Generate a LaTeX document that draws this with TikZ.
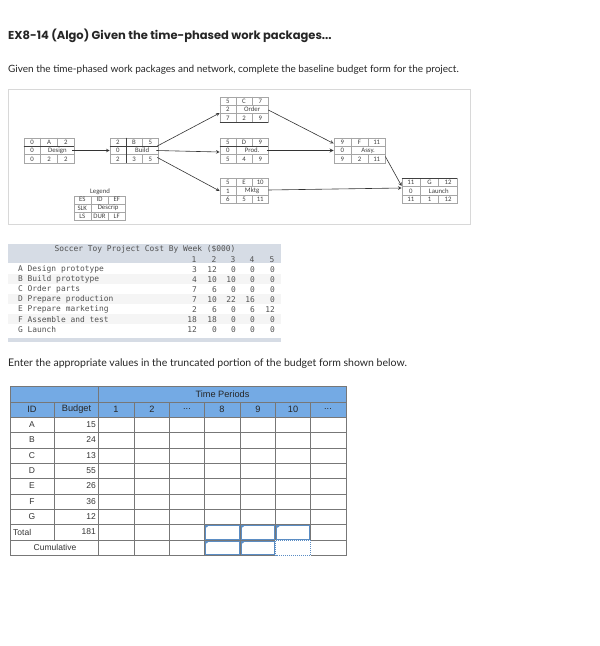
\documentclass[tikz,border=0pt]{standalone}
\usepackage{fontspec}
\setmainfont{Liberation Sans}
\newfontfamily\headfont{Lato}
\newfontfamily\titlefont{Poppins}
\newfontfamily\wpfont{Carlito}
\newfontfamily\codefont{DejaVu Sans Mono}
\usetikzlibrary{calc}

\definecolor{framegray}{HTML}{D8D8D8}
\definecolor{cellgray}{HTML}{A6A6A6}
\definecolor{bandgray}{HTML}{D6DCE5}
\definecolor{rowgray}{HTML}{F5F5F5}
\definecolor{formblue}{HTML}{74AAE4}
\definecolor{formgray}{HTML}{777777}
\definecolor{inputblue}{HTML}{5B8DC4}

\newcommand{\wpcells}[9]{
	\coordinate (#1colL) at ($(#1.west)!1/3!(#1.east)$);
	\coordinate (#1colR) at ($(#1.west)!2/3!(#1.east)$);
	\coordinate (#1cola) at ($(#1.west)!1/6!(#1.east)$);
	\coordinate (#1colc) at ($(#1.west)!5/6!(#1.east)$);
	\coordinate (#1rowT) at ($(#1.north)!1/6!(#1.south)$);
	\coordinate (#1rowU) at ($(#1.north)!1/3!(#1.south)$);
	\coordinate (#1rowV) at ($(#1.north)!2/3!(#1.south)$);
	\coordinate (#1rowD) at ($(#1.north)!5/6!(#1.south)$);
	\draw[cellrule] (#1.west |- #1rowU) -- (#1.east |- #1rowU);
	\draw[cellrule] (#1.west |- #1rowV) -- (#1.east |- #1rowV);
	\draw[cellrule] (#1colL |- #1.north) -- (#1colL |- #1.south);
	\draw[cellrule] (#1colR |- #1.north) -- (#1colR |- #1rowU);
	\draw[cellrule] (#1colR |- #1rowV) -- (#1colR |- #1.south);
	\node[wptext] (#1-es) at (#1cola |- #1rowT) {#2};
	\node[wptext] (#1-id) at (#1.center |- #1rowT) {#3};
	\node[wptext] (#1-ef) at (#1colc |- #1rowT) {#4};
	\node[wptext] (#1-sl) at (#1cola |- #1.center) {#5};
	\node[wptext] (#1-de) at (#1colR |- #1.center) {#6};
	\node[wptext] (#1-ls) at (#1cola |- #1rowD) {#7};
	\node[wptext] (#1-du) at (#1.center |- #1rowD) {#8};
	\node[wptext] (#1-lf) at (#1colc |- #1rowD) {#9};
}

\begin{document}
\begin{tikzpicture}[x=1pt, y=-1pt, line cap=butt,
	wpbox/.style={draw=cellgray, line width=0.7pt, inner sep=0, minimum height=25pt},
	cellrule/.style={draw=cellgray, line width=0.6pt},
	darkrule/.style={draw=black!75, line width=0.7pt},
	wptext/.style={font=\wpfont\fontsize{6.8}{7}\selectfont, text=black!75, inner sep=0},
	link/.style={draw=black!80, line width=0.6pt, -stealth},
	headtext/.style={anchor=west, inner sep=0, text=black!85},
	codetext/.style={font=\codefont\fontsize{7.9}{8}\selectfont, text=black!68, inner sep=0, yshift=-0.7pt},
	formtext/.style={font=\fontsize{8.5}{9}\selectfont, text=black!80, inner sep=0},
	formhead/.style={font=\fontsize{9.2}{10}\selectfont, text=black!85, inner sep=0},
	formrule/.style={draw=formgray, line width=0.8pt},
	inputcell/.style={draw=inputblue, line width=1pt},
	]
	\useasboundingbox (0,0) rectangle (600,646);
	
	% Headings
	\node[headtext, font=\titlefont\bfseries\fontsize{11.5}{12}\selectfont] (title) at (8,36) {EX8-14 (Algo) Given the time-phased work packages...};
	\node[headtext, font=\headfont\fontsize{10}{11}\selectfont] (intro) at (8,70) {Given the time-phased work packages and network, complete the baseline budget form for the project.};
	\node[headtext, font=\headfont\fontsize{10.5}{11}\selectfont] (enter) at (8,364) {Enter the appropriate values in the truncated portion of the budget form shown below.};
	
	% Network frame
	\draw[framegray, line width=0.8pt] (8.5,89.5) rectangle (470,224);
	
	% Work packages
	\node[wpbox, minimum width=50pt] (A) at (49,150.5) {};
	\node[wpbox, minimum width=48pt] (B) at (134,150.5) {};
	\node[wpbox, minimum width=48pt] (C) at (244,109.5) {};
	\node[wpbox, minimum width=48pt] (D) at (244,150.5) {};
	\node[wpbox, minimum width=48pt] (E) at (244,191) {};
	\node[wpbox, minimum width=51pt] (F) at (359.5,150.5) {};
	\node[wpbox, minimum width=55pt] (G) at (429.5,191) {};
	\node[wpbox, minimum width=51pt, minimum height=24pt] (key) at (99.5,208) {};
	\wpcells{A}{0}{A}{2}{0}{Design}{0}{2}{2}
	\wpcells{B}{2}{B}{5}{0}{Build}{2}{3}{5}
	\wpcells{C}{5}{C}{7}{2}{Order}{7}{2}{9}
	\wpcells{D}{5}{D}{9}{0}{Prod.}{5}{4}{9}
	\wpcells{E}{5}{E}{10}{1}{Mktg}{6}{5}{11}
	\wpcells{F}{9}{F}{11}{0}{Assy.\hspace{14pt}}{9}{2}{11}
	\wpcells{G}{11}{G}{12}{0}{Launch}{11}{1}{12}
	\wpcells{key}{ES}{ID}{EF}{SLK}{Descrip}{LS}{DUR}{LF}
	\node[wptext] (keytitle) at (100,192) {Legend};
	
	% Darker rules
	\foreach \n in {A,B,D}
	{
		\draw[darkrule] ($(\n.north west)!1/3!(\n.south west)$) -- ($(\n.north east)!1/3!(\n.south east)$);
	}
	\draw[darkrule] ($(B.north west)!1/3!(B.north east)$) -- ($(B.south west)!1/3!(B.south east)$);
	\draw[darkrule] (G.north west) -- (G.north east);
	\draw[darkrule] (C.south west) -- (C.south east);
	
	% Arrows
	\draw[link] ([xshift=-2pt]A.east) -- (B.west);
	\draw[link] ([xshift=-1pt, yshift=4.5pt]B.east) -- ([yshift=-3.5pt]C.west);
	\draw[link] ([xshift=-2pt]B.east) -- ([yshift=-1.5pt]D.west);
	\draw[link] ([xshift=-1pt, yshift=-7pt]B.east) -- (E.west);
	\draw[link] ([yshift=-0.5pt]C.east) -- ([yshift=7pt]F.west);
	\draw[link, line width=0.8pt] ([xshift=-1pt]D.east) -- (F.west);
	\draw[link] ([yshift=1pt]E.east) -- ([yshift=3pt]G.west);
	\draw[link] ([yshift=-6pt]F.east) -- ([yshift=5pt]G.west);
	
	% Cost table
	\fill[bandgray] (8,244) rectangle (281,263);
	\fill[bandgray] (8,337.5) rectangle (281,342);
	\foreach \y in {279,299,319}
	{
		\fill[rowgray] (8,\y-5) rectangle (281,\y+5);
	}
	\node[codetext] (costtitle) at (145,248.5) {Soccer Toy Project Cost By Week (\$000)};
	\foreach \w/\x in {1/194,2/214,3/233,4/252,5/272}
	{
		\node[codetext] (week\w) at (\x,258.5) {\w};
	}
	\foreach \i/\t/\y in {A/Design prototype/269,B/Build prototype/279,C/Order parts/289,D/Prepare production/299,E/Prepare marketing/309,F/Assemble and test/319,G/Launch/329}
	{
		\node[codetext, anchor=west] (task\i) at (18,\y) {\i\ \t};
	}
	\foreach \i/\a/\b/\c/\d/\e/\y in {A/3/12/0/0/0/269,B/4/10/10/0/0/279,C/7/6/0/0/0/289,D/7/10/22/16/0/299,E/2/6/0/6/12/309,F/18/18/0/0/0/319,G/12/0/0/0/0/329}
	{
		\node[codetext, anchor=east] (cost\i1) at (197,\y) {\a};
		\node[codetext, anchor=east] (cost\i2) at (217,\y) {\b};
		\node[codetext, anchor=east] (cost\i3) at (236,\y) {\c};
		\node[codetext, anchor=east] (cost\i4) at (255,\y) {\d};
		\node[codetext, anchor=east] (cost\i5) at (275,\y) {\e};
	}
	
	% Budget form
	\fill[formblue] (10,386) rectangle (346.5,417);
	\draw[formrule] (10,386) rectangle (346.5,555);
	\draw[formrule] (98,402.5) -- (98,555);
	\draw[formrule] (10,402.5) -- (346.5,402.5);
	\draw[formrule] (98,386) -- (98,402.5);
	\foreach \y in {417,432,448,463,478,494,509,524,540}
	{
		\draw[formrule] (10,\y) -- (346.5,\y);
	}
	\draw[formrule] (54,402.5) -- (54,540);
	\foreach \x in {134.5,169.5,204,240,275.5,310.5}
	{
		\draw[formrule] (\x,402.5) -- (\x,555);
	}
	\node[formhead] (periods) at (222.5,394) {Time Periods};
	\foreach \h/\t/\x in {id/ID/32,budget/Budget/76.5,p1/1/116,p2/2/152,p8/8/222,p9/9/258,p10/10/293}
	{
		\node[formhead] (\h) at (\x,409.5) {\t};
	}
	\node[formhead] (pa) at (187,409.5) {...};
	\node[formhead] (pb) at (328,409.5) {...};
	\foreach \i/\b/\y in {A/15/424.5,B/24/440,C/13/455.5,D/55/470.5,E/26/486,F/36/501.5,G/12/516.5}
	{
		\node[formtext] (id\i) at (32,\y) {\i};
		\node[formtext, anchor=east] (budget\i) at (96,\y) {\b};
	}
	\node[formtext, anchor=west] (total) at (13,532) {Total};
	\node[formtext, anchor=east] (sum) at (96,532) {181};
	\node[formtext] (cumulative) at (55,547.5) {Cumulative};
	
	% Input cells
	\fill[white] (275,540) rectangle (311,555.5);
	\foreach \xa/\xb/\ya/\yb in {205/239.5/525/539.5,241/274.5/525/539.5,276.5/309.5/525/539.5,205/239.5/541/554.5,241/274.5/541/554.5}
	{
		\draw[inputcell] (\xa,\ya) rectangle (\xb,\yb);
		\fill[inputblue] (\xa,\ya) -- (\xa+3,\ya+1.5) -- (\xa,\ya+3) -- cycle;
	}
	\draw[inputblue, line width=0.9pt, dash pattern=on 1pt off 1pt] (275.5,540.5) rectangle (310.5,555);
\end{tikzpicture}
\end{document}
